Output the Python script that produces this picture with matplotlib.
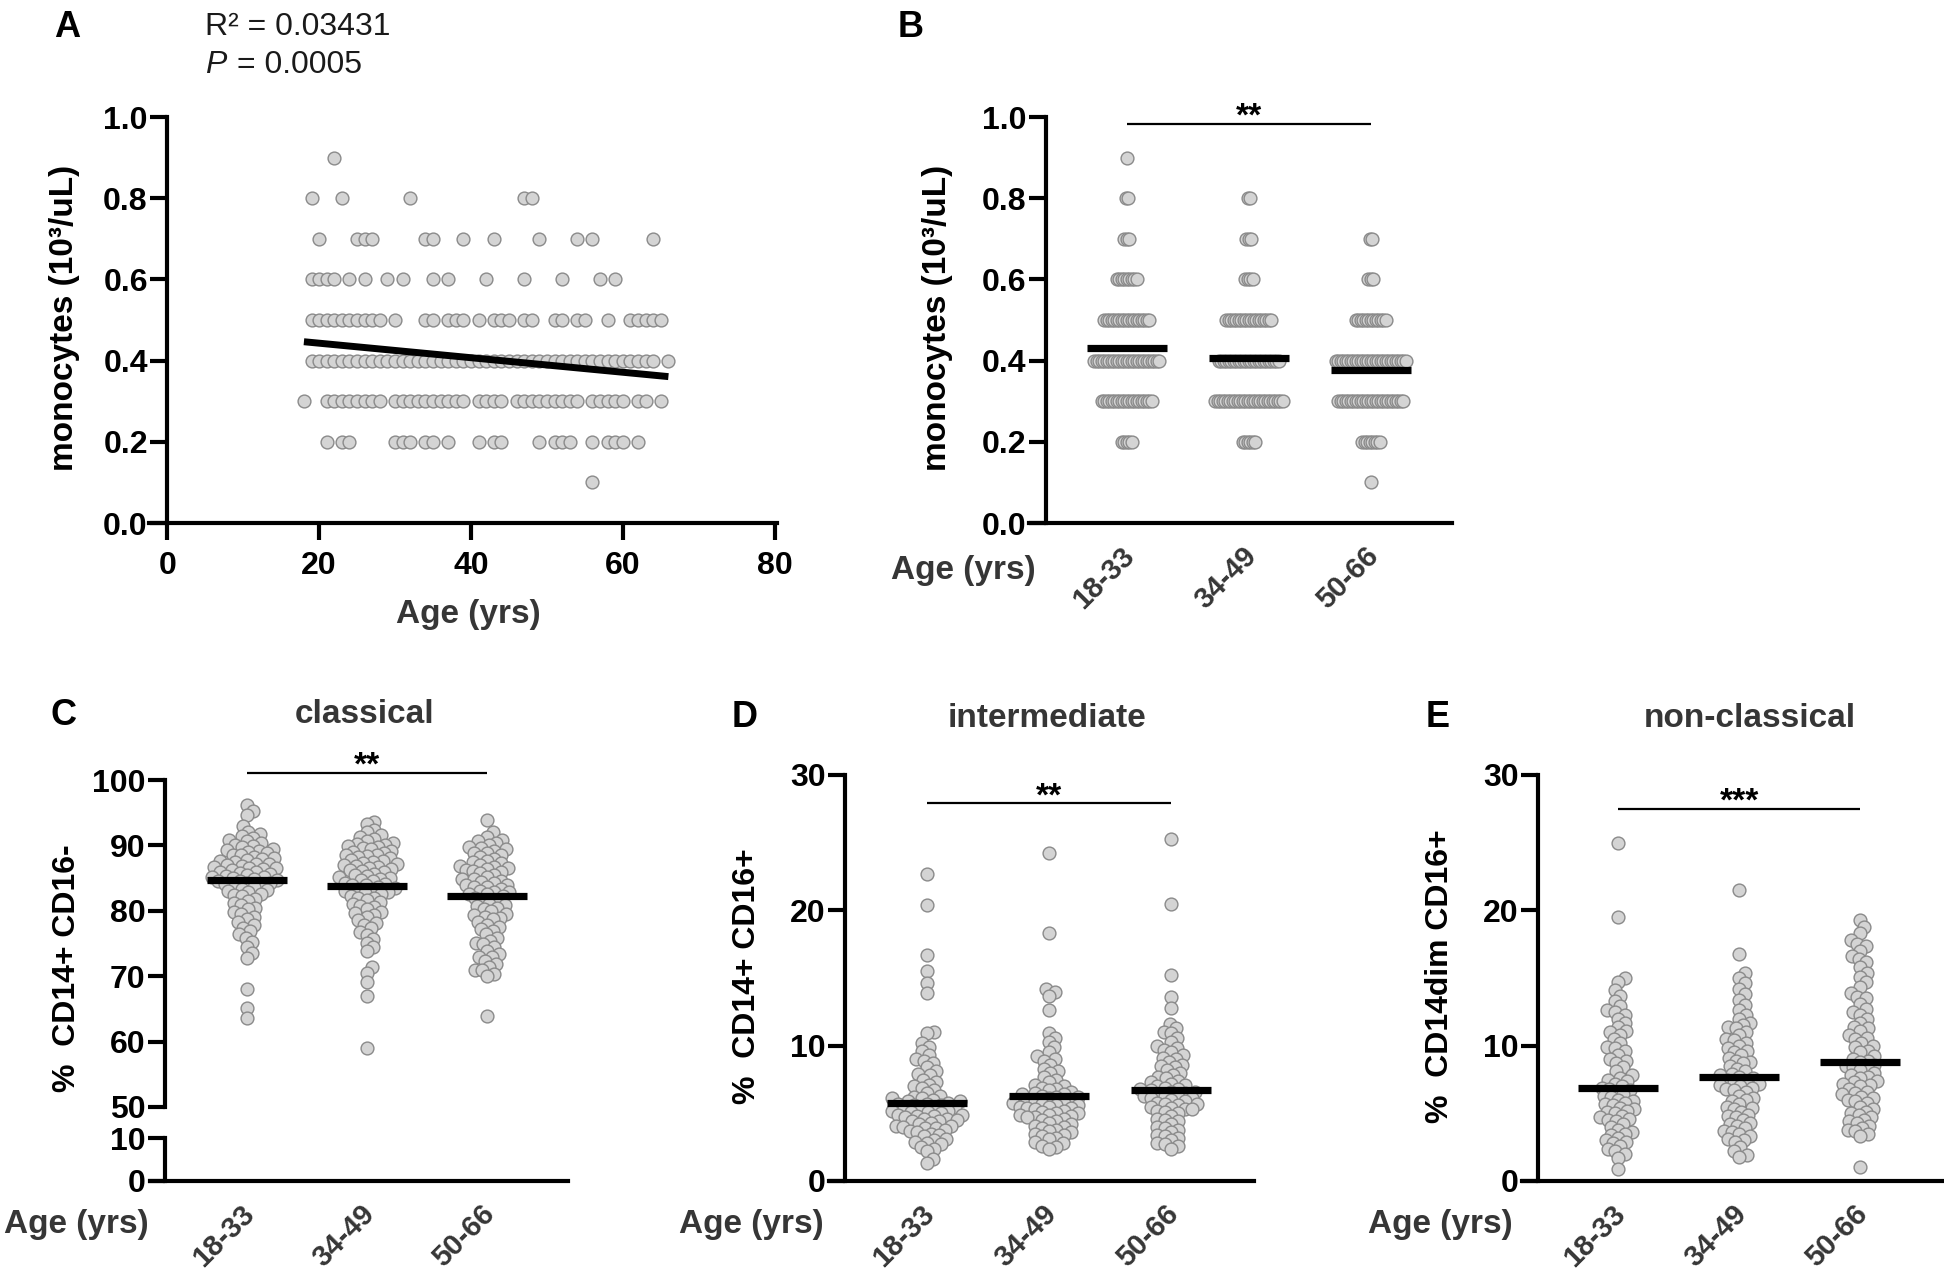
import numpy as np
import matplotlib

matplotlib.use("Agg")
import matplotlib.pyplot as plt
from matplotlib.ticker import FormatStrFormatter
from matplotlib.transforms import ScaledTranslation


# ---- values ----

# A: age of each donor, listed per monocyte level (10^3/uL)
a_ages_09 = [22]
a_ages_08 = [19, 23, 32, 47, 48]
a_ages_07 = [20, 25, 26, 27, 34, 35, 39, 43, 49, 54, 56, 64]
a_ages_06 = [19, 20, 21, 22, 24, 26, 29, 31, 35, 37, 42, 47, 52, 57, 59]
a_ages_05 = [19, 20, 21, 22, 23, 24, 25, 26, 27, 28, 30, 34, 35, 37, 38, 39,
             41, 43, 44, 45, 47, 48, 51, 52, 54, 55, 58, 61, 62, 63, 64, 65]
a_ages_04 = [19, 20, 21, 22, 23, 24, 25, 26, 27, 28, 29, 30, 31, 32, 33, 34,
             35, 36, 37, 38, 39, 40, 41, 42, 43, 44, 45, 46, 47, 48, 49, 50,
             51, 52, 53, 54, 55, 56, 57, 58, 59, 60, 61, 62, 63, 64, 66]
a_ages_03 = [18, 21, 22, 23, 24, 25, 26, 27, 28, 30, 31, 32, 33, 34, 35, 36,
             37, 38, 39, 41, 42, 43, 44, 46, 47, 48, 49, 50, 51, 52, 53, 54,
             56, 57, 58, 59, 60, 62, 63, 65]
a_ages_02 = [21, 23, 24, 30, 31, 32, 34, 35, 37, 41, 43, 44, 49, 51, 52, 53,
             56, 58, 59, 60, 62]
a_ages_01 = [56]
a_fit_intercept = 0.4787
a_fit_slope = -0.00179
a_fit_ages = [18, 66]

groups = ["18-33", "34-49", "50-66"]

# B: number of donors at each monocyte level, per age group
b_levels = [0.1, 0.2, 0.3, 0.4, 0.5, 0.6, 0.7, 0.8, 0.9]
b_counts_1833 = [0, 5, 21, 27, 19, 9, 3, 2, 1]
b_counts_3449 = [0, 6, 28, 25, 19, 4, 3, 2, 0]
b_counts_5066 = [1, 8, 27, 29, 13, 3, 2, 0, 0]
b_means = [0.432, 0.407, 0.376]

# C: % classical monocytes
c_1833 = [96.2, 95.3, 94.7, 92.9, 92.1, 91.8, 91.5, 91.2, 90.9, 90.6,
          90.3, 90.1, 89.9, 89.7, 89.5, 89.3, 89.2, 89.0, 88.8, 88.6, 88.5,
          88.3, 88.1, 87.9, 87.8, 87.6, 87.4, 87.2, 87.1, 87.0, 86.9, 86.7,
          86.6, 86.5, 86.4, 86.2, 86.0, 85.9, 85.8, 85.7, 85.5, 85.3, 85.2,
          85.1, 85.0, 84.8, 84.7, 84.6, 84.5, 84.3, 84.2, 84.1, 84.0, 83.8,
          83.6, 83.4, 83.2, 83.0, 82.8, 82.6, 82.4, 82.2, 81.8, 81.5, 81.2,
          80.9, 80.5, 80.2, 79.8, 79.5, 79.1, 78.7, 78.3, 77.9, 77.4, 76.9,
          76.4, 75.9, 75.3, 74.5, 73.6, 72.8, 68.0, 65.2, 63.6]
c_3449 = [93.6, 93.3, 92.4, 92.0, 91.6, 91.3, 91.0, 90.7, 90.4, 90.2, 90.0,
          89.9, 89.8, 89.6, 89.4, 89.2, 89.0, 88.8, 88.6, 88.5, 88.4, 88.2,
          88.0, 87.8, 87.6, 87.5, 87.3, 87.1, 87.0, 86.9, 86.7, 86.5, 86.4,
          86.3, 86.1, 85.9, 85.7, 85.5, 85.3, 85.1, 85.0, 84.9, 84.7, 84.5,
          84.3, 84.1, 84.0, 83.9, 83.7, 83.5, 83.3, 83.1, 83.0, 82.9, 82.7,
          82.5, 82.2, 82.0, 81.9, 81.6, 81.3, 81.0, 80.8, 80.6, 80.2, 79.8,
          79.6, 79.4, 79.0, 78.6, 78.2, 77.8, 77.3, 76.8, 76.3, 75.7, 75.1,
          74.5, 73.9, 71.4, 70.5, 69.1, 67.0, 59.0]
c_5066 = [93.9, 92.0, 91.3, 90.9, 90.6, 90.3, 90.0, 89.7, 89.6, 89.4, 89.1,
          88.9, 88.8, 88.5, 88.2, 87.9, 87.6, 87.4, 87.3, 87.0, 86.9, 86.7,
          86.6, 86.4, 86.2, 86.1, 85.9, 85.8, 85.5, 85.2, 84.9, 84.8, 84.6,
          84.4, 84.3, 84.0, 83.9, 83.7, 83.6, 83.4, 83.1, 82.9, 82.8, 82.6,
          82.5, 82.2, 81.9, 81.7, 81.5, 81.1, 80.9, 80.7, 80.5, 80.3, 79.9,
          79.5, 79.3, 79.1, 78.9, 78.7, 78.3, 77.9, 77.5, 77.2, 76.9, 76.4,
          75.9, 75.4, 75.1, 74.9, 74.4, 73.9, 73.4, 73.0, 72.9, 72.4, 71.9,
          71.4, 71.0, 70.9, 70.4, 70.0, 63.9]
c_means = [84.7, 83.8, 82.2]

# D: % intermediate monocytes
d_1833 = [22.7, 20.4, 16.7, 15.5, 14.6, 13.9, 11.0, 10.9, 10.2, 9.9, 9.6,
          9.3, 9.0, 8.9, 8.7, 8.4, 8.1, 7.9, 7.8, 7.5, 7.3, 7.1, 7.0, 6.9,
          6.7, 6.5, 6.3, 6.2, 6.1, 6.1, 6.0, 5.9, 5.9, 5.8, 5.7, 5.7, 5.6,
          5.6, 5.5, 5.4, 5.4, 5.3, 5.2, 5.2, 5.1, 5.1, 5.0, 4.9, 4.9, 4.8,
          4.8, 4.7, 4.6, 4.6, 4.5, 4.4, 4.4, 4.3, 4.2, 4.1, 4.1, 4.0, 3.9,
          3.9, 3.8, 3.7, 3.6, 3.5, 3.4, 3.3, 3.1, 3.0, 2.9, 2.8, 2.7, 2.5,
          2.4, 2.2, 1.6, 1.3]
d_3449 = [24.2, 18.3, 14.2, 14.0, 13.7, 12.6, 10.9, 10.6, 10.3, 9.9, 9.5,
          9.2, 9.0, 8.9, 8.6, 8.3, 8.1, 8.0, 7.7, 7.5, 7.3, 7.1, 7.0, 6.9,
          6.8, 6.7, 6.6, 6.5, 6.4, 6.4, 6.3, 6.2, 6.2, 6.1, 6.0, 6.0, 5.9,
          5.8, 5.8, 5.7, 5.6, 5.6, 5.5, 5.5, 5.4, 5.4, 5.3, 5.2, 5.1, 5.0,
          5.0, 4.9, 4.9, 4.8, 4.7, 4.7, 4.6, 4.5, 4.4, 4.3, 4.2, 4.1, 4.0,
          3.9, 3.8, 3.7, 3.6, 3.5, 3.4, 3.3, 3.2, 3.1, 2.9, 2.8, 2.6, 2.5,
          2.4]
d_5066 = [25.3, 20.5, 15.2, 13.6, 12.8, 11.6, 11.3, 11.0, 10.9, 10.6, 10.3,
          10.0, 9.8, 9.7, 9.5, 9.3, 9.1, 9.0, 8.8, 8.6, 8.5, 8.4, 8.2, 8.0,
          7.8, 7.7, 7.6, 7.4, 7.3, 7.2, 7.1, 7.0, 6.9, 6.8, 6.8, 6.7, 6.6,
          6.6, 6.5, 6.4, 6.3, 6.3, 6.2, 6.1, 6.1, 6.0, 5.9, 5.8, 5.7, 5.7,
          5.6, 5.5, 5.4, 5.3, 5.3, 5.2, 5.1, 5.0, 4.8, 4.6, 4.5, 4.4, 4.2,
          4.0, 3.9, 3.8, 3.6, 3.4, 3.3, 3.2, 3.0, 2.8, 2.7, 2.6, 2.4]
d_means = [5.8, 6.3, 6.7]

# E: % non-classical monocytes
e_1833 = [25.0, 19.5, 15.0, 14.7, 14.1, 13.7, 13.3, 12.9, 12.6, 12.5, 12.3,
          12.0, 11.7, 11.4, 11.1, 11.0, 10.8, 10.5, 10.2, 9.9, 9.8, 9.6,
          9.3, 9.0, 8.9, 8.7, 8.4, 8.1, 7.8, 7.6, 7.5, 7.4, 7.2, 7.0, 6.9,
          6.8, 6.7, 6.6, 6.4, 6.3, 6.2, 6.0, 5.9, 5.8, 5.7, 5.6, 5.4, 5.3,
          5.2, 5.1, 5.0, 4.8, 4.7, 4.6, 4.5, 4.4, 4.2, 4.0, 3.8, 3.6, 3.5,
          3.4, 3.2, 3.0, 2.9, 2.8, 2.6, 2.4, 2.2, 2.0, 1.7, 0.9]
e_3449 = [21.5, 16.8, 15.4, 15.0, 14.6, 14.2, 13.8, 13.4, 13.0, 12.6, 12.3,
          12.0, 11.7, 11.5, 11.4, 11.3, 11.0, 10.8, 10.5, 10.4, 10.2, 10.0,
          9.8, 9.6, 9.5, 9.3, 9.1, 8.9, 8.8, 8.7, 8.5, 8.3, 8.1, 7.9, 7.8,
          7.7, 7.6, 7.5, 7.4, 7.3, 7.2, 7.1, 7.0, 6.9, 6.8, 6.7, 6.6, 6.3,
          6.1, 6.0, 5.9, 5.7, 5.5, 5.4, 5.3, 5.1, 4.9, 4.8, 4.7, 4.5, 4.3,
          4.2, 4.1, 3.9, 3.7, 3.6, 3.5, 3.3, 3.1, 3.0, 2.9, 2.5, 2.2, 1.9,
          1.8]
e_5066 = [19.3, 18.8, 18.3, 17.8, 17.5, 17.4, 17.0, 16.6, 16.4, 16.2, 15.8,
          15.4, 15.1, 14.7, 14.3, 13.9, 13.6, 13.5, 13.1, 12.7, 12.5, 12.3,
          12.0, 11.7, 11.4, 11.3, 11.1, 10.8, 10.6, 10.5, 10.2, 10.0, 9.9,
          9.6, 9.5, 9.2, 9.0, 8.9, 8.8, 8.6, 8.5, 8.4, 8.3, 8.2, 8.0, 7.8,
          7.7, 7.6, 7.4, 7.3, 7.2, 7.1, 7.0, 6.8, 6.6, 6.5, 6.4, 6.2, 6.1,
          6.0, 5.9, 5.8, 5.5, 5.3, 5.1, 5.0, 4.9, 4.7, 4.5, 4.4, 4.3, 4.1,
          3.9, 3.8, 3.7, 3.5, 3.3, 1.0]
e_means = [6.9, 7.7, 8.8]


# ---- style ----
FIG_W, FIG_H = 1944, 1276
DPI = 100
FACE = "#d4d4d4"
EDGE = "#8a8a8a"
DARK = "#363636"
SPINE_W = 3.0
DOT_S = 85
TICK_FS = 23

plt.rcParams["font.family"] = ["Liberation Sans", "DejaVu Sans"]
plt.rcParams["font.weight"] = "bold"

fig = plt.figure(figsize=(FIG_W / DPI, FIG_H / DPI), dpi=DPI)


def px_axes(left, top, right, bottom):
    return fig.add_axes([left / FIG_W, 1 - bottom / FIG_H,
                         (right - left) / FIG_W, (bottom - top) / FIG_H])


def fig_text(x, y, s, **kw):
    return fig.text(x / FIG_W, 1 - y / FIG_H, s, **kw)


def style_axes(ax, spine_x):
    for side in ["top", "right"]:
        ax.spines[side].set_visible(False)
    for side in ["left", "bottom"]:
        ax.spines[side].set_linewidth(SPINE_W)
    ax.spines["left"].set_position(("data", spine_x))
    ax.tick_params(axis="y", direction="out", length=12, width=SPINE_W,
                   labelsize=TICK_FS, pad=2)
    ax.patch.set_visible(False)


def swarm_px(y_px, min_dist):
    # simple beeswarm: each dot goes to the free slot nearest the centre
    order = np.argsort(y_px, kind="stable")
    xs = np.zeros(len(y_px))
    placed_x = np.empty(0)
    placed_y = np.empty(0)
    for i in order:
        y = y_px[i]
        dy = placed_y - y
        near = np.abs(dy) < min_dist
        x = 0.0
        if near.any():
            nx, ndy = placed_x[near], dy[near]
            dx = np.sqrt(min_dist ** 2 - ndy ** 2)
            cands = np.concatenate([[0.0], nx + dx, nx - dx])
            cands = cands[np.argsort(np.abs(cands), kind="stable")]
            for c in cands:
                if np.all((nx - c) ** 2 + ndy ** 2 >= min_dist ** 2 - 1e-6):
                    x = c
                    break
        xs[i] = x
        placed_x = np.append(placed_x, x)
        placed_y = np.append(placed_y, y)
    return xs


def px_per_x(ax):
    p0 = ax.transData.transform((0, 0))
    p1 = ax.transData.transform((1, 0))
    return p1[0] - p0[0]


def draw_swarm(ax, values, pos, min_dist=7.6):
    vals = np.asarray(values, dtype=float)
    y_px = ax.transData.transform(np.column_stack([np.zeros(len(vals)), vals]))[:, 1]
    off = swarm_px(y_px, min_dist) / px_per_x(ax)
    ax.scatter(pos + off, vals, s=DOT_S, c=FACE, edgecolors=EDGE,
               linewidths=1.0, zorder=2, clip_on=False)


def draw_mean(ax, pos, value, half=0.33):
    ax.plot([pos - half, pos + half], [value, value], color="black",
            lw=5.2, solid_capstyle="butt", zorder=3)


def draw_group_labels(ax):
    ax.set_xticks([])
    for i, g in enumerate(groups):
        ax.text(i, 0, g, transform=ax.get_xaxis_transform()
                + ScaledTranslation(0.03, -0.29, fig.dpi_scale_trans),
                rotation=45, ha="right", va="center", rotation_mode="anchor",
                fontsize=21, color=DARK)


def draw_sig(ax, y, stars):
    ax.plot([0, 2], [y, y], color="black", lw=1.6, clip_on=False,
            solid_capstyle="butt")
    ax.text(1, y, stars, ha="center", va="baseline", fontsize=24,
            transform=ax.transData
            + ScaledTranslation(0, -0.02, fig.dpi_scale_trans))


# ---- A: scatter against age ----
ax_a = px_axes(149, 117, 777, 523)
style_axes(ax_a, 0)
ax_a.set_xlim(-2.4, 80.3)
ax_a.set_ylim(0, 1.0)
a_rows = [(0.9, a_ages_09), (0.8, a_ages_08), (0.7, a_ages_07),
          (0.6, a_ages_06), (0.5, a_ages_05), (0.4, a_ages_04),
          (0.3, a_ages_03), (0.2, a_ages_02), (0.1, a_ages_01)]
for level, ages in a_rows:
    ax_a.scatter(ages, [level] * len(ages), s=DOT_S, c=FACE,
                 edgecolors=EDGE, linewidths=1.0, zorder=2, clip_on=False)
fit_x = np.array(a_fit_ages, dtype=float)
ax_a.plot(fit_x, a_fit_intercept + a_fit_slope * fit_x, color="black",
          lw=5.0, solid_capstyle="butt", zorder=3)
ax_a.set_xticks([0, 20, 40, 60, 80])
ax_a.set_yticks([0, 0.2, 0.4, 0.6, 0.8, 1.0])
ax_a.yaxis.set_major_formatter(FormatStrFormatter("%.1f"))
ax_a.tick_params(axis="x", direction="out", length=12, width=SPINE_W,
                 labelsize=TICK_FS, pad=8)

fig_text(468, 615, "Age (yrs)", ha="center", va="center", fontsize=24,
         color=DARK)
fig_text(64, 318, "monocytes (10³/uL)", ha="center", va="center",
         rotation=90, fontsize=24)
fig_text(205, 35, "R² = 0.03431", ha="left", va="baseline", fontsize=23,
         fontweight="normal", color="#1a1a1a")
fig_text(205, 73, "P", ha="left", va="baseline", fontsize=23,
         fontweight="normal", fontstyle="italic", color="#1a1a1a")
fig_text(237, 73, "= 0.0005", ha="left", va="baseline", fontsize=23,
         fontweight="normal", color="#1a1a1a")

# ---- B: grouped monocyte counts ----
ax_b = px_axes(1029, 117, 1452, 523)
style_axes(ax_b, -0.664)
ax_b.set_xlim(-0.803, 2.664)
ax_b.set_ylim(0, 1.0)
ax_b.set_yticks([0, 0.2, 0.4, 0.6, 0.8, 1.0])
ax_b.yaxis.set_major_formatter(FormatStrFormatter("%.1f"))
step = 2.5 / px_per_x(ax_b)
for i, counts in enumerate([b_counts_1833, b_counts_3449, b_counts_5066]):
    for level, n in zip(b_levels, counts):
        if n == 0:
            continue
        xs = i + (np.arange(n) - (n - 1) / 2) * step
        ax_b.scatter(xs, [level] * n, s=DOT_S, c=FACE, edgecolors=EDGE,
                     linewidths=1.0, zorder=2, clip_on=False)
    draw_mean(ax_b, i, b_means[i])
draw_group_labels(ax_b)
draw_sig(ax_b, 0.983, "**")
fig_text(963, 570, "Age (yrs)", ha="center", va="center", fontsize=24,
         color=DARK)
fig_text(937, 318, "monocytes (10³/uL)", ha="center", va="center",
         rotation=90, fontsize=24)

# ---- C: classical, broken y axis ----
ax_c = px_axes(150, 780, 568, 1107)
ax_c0 = px_axes(150, 1138, 568, 1181)
for ax in (ax_c, ax_c0):
    style_axes(ax, -0.683)
    ax.set_xlim(-0.808, 2.675)
ax_c.spines["bottom"].set_visible(False)
ax_c.set_xticks([])
ax_c.set_ylim(50, 100)
ax_c.set_yticks([50, 60, 70, 80, 90, 100])
ax_c0.set_ylim(0, 10)
ax_c0.set_yticks([0, 10])
for i, vals in enumerate([c_1833, c_3449, c_5066]):
    draw_swarm(ax_c, vals, i)
    draw_mean(ax_c, i, c_means[i])
draw_group_labels(ax_c0)
draw_sig(ax_c, 101.1, "**")
fig_text(365, 723, "classical", ha="center", va="baseline", fontsize=24,
         color=DARK)
fig_text(67, 968, "%  CD14+ CD16-", ha="center", va="center", rotation=90,
         fontsize=23)
fig_text(76, 1224, "Age (yrs)", ha="center", va="center", fontsize=24,
         color=DARK)

# ---- D: intermediate ----
ax_d = px_axes(829, 775, 1254, 1181)
style_axes(ax_d, -0.672)
ax_d.set_xlim(-0.803, 2.68)
ax_d.set_ylim(0, 30)
ax_d.set_yticks([0, 10, 20, 30])
for i, vals in enumerate([d_1833, d_3449, d_5066]):
    draw_swarm(ax_d, vals, i)
    draw_mean(ax_d, i, d_means[i])
draw_group_labels(ax_d)
draw_sig(ax_d, 27.9, "**")
fig_text(1047, 727, "intermediate", ha="center", va="baseline", fontsize=24,
         color=DARK)
fig_text(747, 976, "%  CD14+ CD16+", ha="center", va="center", rotation=90,
         fontsize=23)
fig_text(751, 1224, "Age (yrs)", ha="center", va="center", fontsize=24,
         color=DARK)

# ---- E: non-classical ----
ax_e = px_axes(1522, 775, 1944, 1181)
style_axes(ax_e, -0.661)
ax_e.set_xlim(-0.793, 2.69)
ax_e.set_ylim(0, 30)
ax_e.set_yticks([0, 10, 20, 30])
for i, vals in enumerate([e_1833, e_3449, e_5066]):
    draw_swarm(ax_e, vals, i)
    draw_mean(ax_e, i, e_means[i])
draw_group_labels(ax_e)
draw_sig(ax_e, 27.5, "***")
fig_text(1750, 727, "non-classical", ha="center", va="baseline", fontsize=24,
         color=DARK)
fig_text(1440, 976, "%  CD14dim CD16+", ha="center", va="center",
         rotation=90, fontsize=23)
fig_text(1440, 1224, "Age (yrs)", ha="center", va="center", fontsize=24,
         color=DARK)

# ---- panel letters ----
for letter, x, y in [("A", 54, 37), ("B", 898, 37), ("C", 51, 725),
                     ("D", 732, 727), ("E", 1426, 727)]:
    fig_text(x, y, letter, ha="left", va="baseline", fontsize=26)

fig.savefig("out.png", dpi=DPI, facecolor="white")
